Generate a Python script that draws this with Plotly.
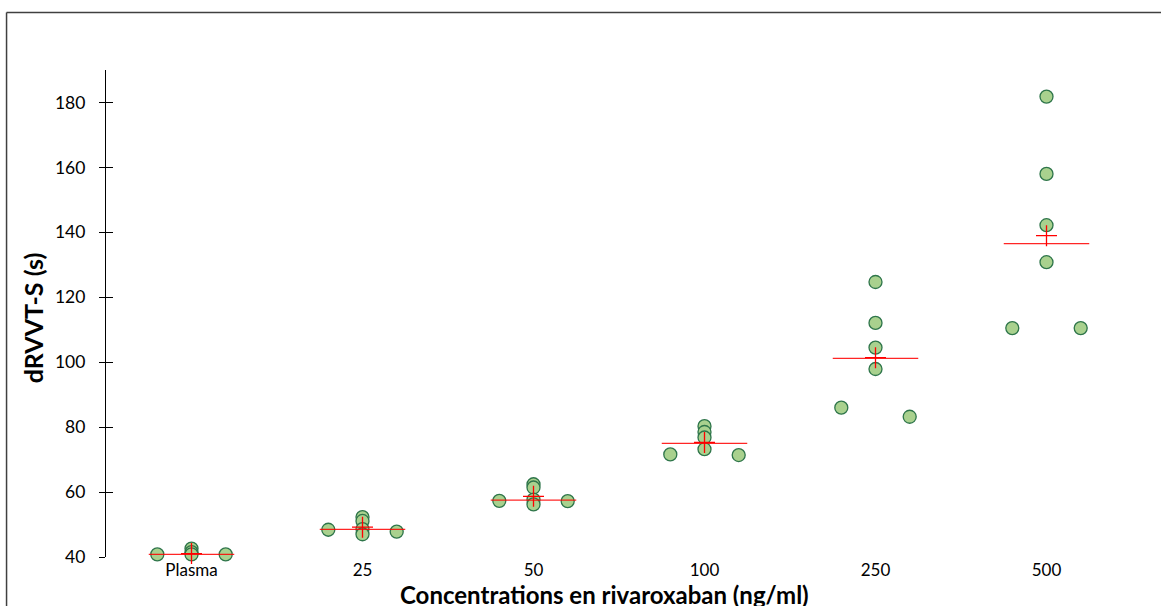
import numpy as np
import plotly.graph_objects as go

# ---- data ----
categories = ["Plasma", "25", "50", "100", "250", "500"]
# horizontal jitter offsets (category units) used to spread overlapping points
offsets = [-0.2, 0.0, 0.0, 0.0, 0.0, 0.2]
plasma = [40.8, 42.6, 41.5, 40.8, 39.9, 40.8]
c25 = [48.4, 52.3, 51.1, 48.6, 47.0, 47.8]
c50 = [57.3, 62.4, 61.4, 57.7, 56.2, 57.2]
c100 = [71.6, 80.3, 78.5, 76.8, 73.2, 71.4]
c250 = [86.0, 124.7, 112.1, 104.5, 97.9, 83.2]
c500 = [110.5, 181.8, 158.0, 142.2, 130.8, 110.5]
groups = [plasma, c25, c50, c100, c250, c500]

y_ticks = [40, 60, 80, 100, 120, 140, 160, 180]

# ---- layout geometry ----
W, H = 1161, 606
ml, mr, mt, mb = 106, 28.5, 70, 49.3
pw, ph = W - ml - mr, H - mt - mb

fill = "rgb(169,209,142)"
edge = "rgb(46,117,74)"
red = "rgb(255,0,0)"

fig = go.Figure()

# points
xs, ys = [], []
for i, g in enumerate(groups):
    for off, v in zip(offsets, g):
        xs.append(i + off)
        ys.append(v)
fig.add_trace(go.Scatter(
    x=xs, y=ys, mode="markers",
    marker=dict(size=13, color=fill, line=dict(color=edge, width=1.3)),
    cliponaxis=False, showlegend=False, hoverinfo="y"))

# medians (long red lines)
for i, g in enumerate(groups):
    m = float(np.median(g))
    fig.add_trace(go.Scatter(
        x=[i - 0.25, i + 0.25], y=[m, m], mode="lines",
        line=dict(color=red, width=1.3), opacity=0.85,
        cliponaxis=False, showlegend=False, hoverinfo="skip"))

# means (red crosses)
fig.add_trace(go.Scatter(
    x=list(range(len(groups))), y=[float(np.mean(g)) for g in groups],
    mode="markers",
    marker=dict(symbol="cross-thin", size=15, line=dict(color=red, width=1.3)),
    cliponaxis=False, showlegend=False, hoverinfo="y"))

# dummy trace for inner-tick overlay axis
fig.add_trace(go.Scatter(x=[0], y=[100], yaxis="y2", mode="markers",
                         marker=dict(opacity=0), showlegend=False, hoverinfo="skip"))

font_family = "Lato, 'Open Sans', sans-serif"

fig.update_layout(
    width=W, height=H,
    margin=dict(l=ml, r=mr, t=mt, b=mb),
    paper_bgcolor="white", plot_bgcolor="white",
    font=dict(family=font_family, color="black"),
    xaxis=dict(range=[-0.5, 5.5], tickmode="array",
               tickvals=list(range(len(categories))), ticktext=categories,
               showline=False, showgrid=False, zeroline=False, ticks="",
               tickfont=dict(size=17), ticklabelstandoff=1, fixedrange=True),
    yaxis=dict(range=[40, 190], tickmode="array", tickvals=y_ticks,
               showline=True, linecolor="black", linewidth=1.3,
               ticks="outside", ticklen=6, tickwidth=1.3, tickcolor="black",
               showgrid=False, zeroline=False, tickfont=dict(size=17.5),
               ticklabelstandoff=10),
    yaxis2=dict(range=[40, 190], overlaying="y", side="left", anchor="x",
                tickmode="array", tickvals=y_ticks, showticklabels=False,
                ticks="inside", ticklen=7, tickwidth=1.3, tickcolor="black",
                showline=False, showgrid=False, zeroline=False),
    annotations=[
        dict(text="<b>Concentrations en rivaroxaban (ng/ml)</b>",
             xref="paper", yref="paper",
             x=(605 - ml) / pw, y=(H - 594 - mb) / ph,
             xanchor="center", yanchor="middle", showarrow=False,
             font=dict(size=24)),
        dict(text="<b>dRVVT-S (s)</b>", textangle=-90,
             xref="paper", yref="paper",
             x=(33 - ml) / pw, y=(H - 318 - mb) / ph,
             xanchor="center", yanchor="middle", showarrow=False,
             font=dict(size=25)),
    ],
    shapes=[
        dict(type="line", xref="paper", yref="paper",
             x0=(6.5 - ml) / pw, x1=(W + 20 - ml) / pw,
             y0=(H - 12.5 - mb) / ph, y1=(H - 12.5 - mb) / ph,
             line=dict(color="rgb(64,64,64)", width=1.5)),
        dict(type="line", xref="paper", yref="paper",
             x0=(6.5 - ml) / pw, x1=(6.5 - ml) / pw,
             y0=(H - 12.5 - mb) / ph, y1=(-20 - mb) / ph,
             line=dict(color="rgb(64,64,64)", width=1.5)),
    ],
)

fig.write_html("out.html", config={"displayModeBar": False},
               post_script="document.body.style.margin='0';document.body.style.overflow='hidden';")
